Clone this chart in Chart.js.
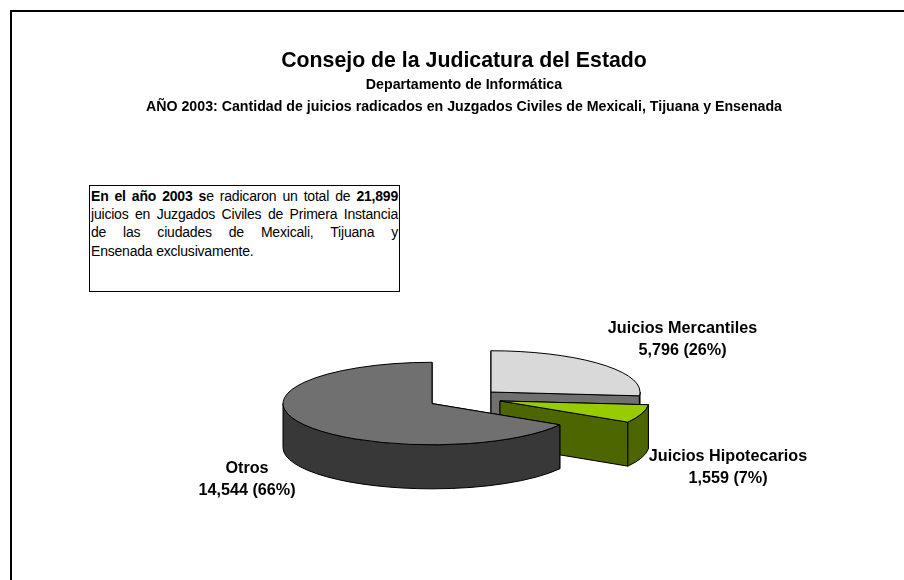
<!DOCTYPE html>
<html lang="es">
<head>
<meta charset="utf-8">
<title>Consejo de la Judicatura del Estado</title>
<script src="https://cdn.jsdelivr.net/npm/chart.js@4"></script>
<style>
html,body{margin:0;padding:0;background:#fff;width:904px;height:580px;overflow:hidden}
#frame{position:absolute;left:10px;top:10px;right:-5px;bottom:-5px;border:2px solid #000}
#c{position:absolute;left:0;top:0}
#note{position:absolute;left:89px;top:185px;width:307px;height:104px;border:1px solid #000;padding:1px 1px 0 1px;
 font:14px/18.2px "Liberation Sans",Arial,sans-serif;color:#000;background:#fff;box-sizing:content-box}
#note div{text-align:justify;text-align-last:justify;white-space:nowrap;letter-spacing:-0.2px}
#note div.last{text-align:left;text-align-last:left}
</style>
</head>
<body>
<div id="frame"></div>
<canvas id="c" width="904" height="580"></canvas>
<div id="note">
<div><b>En el año 2003 s</b>e radicaron un total de <b>21,899</b></div>
<div>juicios en Juzgados Civiles de Primera Instancia</div>
<div>de las ciudades de Mexicali, Tijuana y</div>
<div class="last">Ensenada exclusivamente.</div>
</div>
<script>
const categories = ['Juicios Mercantiles', 'Juicios Hipotecarios', 'Otros'];
const values = [5796, 1559, 14544];
const percents = [26, 7, 66];
const topColors = ['#D9D9D9', '#99CC00', '#707070'];
const wallColors = ['#707070', '#4D6600', '#383838'];
const titleText = 'Consejo de la Judicatura del Estado';
const subtitleLines = ['Departamento de Informática',
  'AÑO 2003: Cantidad de juicios radicados en Juzgados Civiles de Mexicali, Tijuana y Ensenada'];

const pie3d = {
  id: 'pie3d',
  beforeDatasetDraw(chart, args, o) {
    const ctx = chart.ctx, arcs = args.meta.data;
    arcs.forEach((arc, i) => {
      const R = arc.outerRadius, k = o.tilt, D = o.depth;
      const a0 = arc.startAngle, a1 = arc.endAngle, mid = (a0 + a1) / 2;
      const cx = o.cx + Math.cos(mid) * o.explode[i];
      const cy = o.cy + Math.sin(mid) * o.explode[i] * k;
      const pt = a => [cx + R * Math.cos(a), cy + R * k * Math.sin(a)];
      ctx.save();
      ctx.lineWidth = 1; ctx.strokeStyle = '#000'; ctx.lineJoin = 'round';
      ctx.fillStyle = wallColors[i];
      [a0, a1].forEach(a => {
        const p = pt(a);
        ctx.beginPath();
        ctx.moveTo(cx, cy); ctx.lineTo(p[0], p[1]);
        ctx.lineTo(p[0], p[1] + D); ctx.lineTo(cx, cy + D);
        ctx.closePath(); ctx.fill(); ctx.stroke();
      });
      const s = Math.max(a0, 0), e = Math.min(a1, Math.PI);
      if (e > s) {
        ctx.beginPath();
        ctx.ellipse(cx, cy, R, R * k, 0, s, e);
        ctx.ellipse(cx, cy + D, R, R * k, 0, e, s, true);
        ctx.closePath(); ctx.fill(); ctx.stroke();
      }
      ctx.save();
      ctx.translate(cx, cy); ctx.scale(1, k); ctx.translate(-arc.x, -arc.y);
      arc.draw(ctx);
      ctx.restore();
      ctx.beginPath();
      ctx.moveTo(cx, cy);
      ctx.ellipse(cx, cy, R, R * k, 0, a0, a1);
      ctx.closePath(); ctx.stroke();
      ctx.restore();
    });
    return false;
  },
  afterDraw(chart, args, o) {
    const ctx = chart.ctx;
    ctx.save();
    ctx.fillStyle = '#000';
    ctx.font = 'bold 16.2px "Liberation Sans", Arial, sans-serif';
    ctx.textAlign = 'center'; ctx.textBaseline = 'middle';
    categories.forEach((name, i) => {
      const [x, y] = o.labelAt[i];
      ctx.fillText(name, x, y);
      ctx.fillText(values[i].toLocaleString('en-US') + ' (' + percents[i] + '%)', x, y + 22);
    });
    ctx.restore();
  }
};

new Chart(document.getElementById('c'), {
  type: 'pie',
  plugins: [pie3d],
  data: { labels: categories, datasets: [{ data: values, backgroundColor: topColors, borderWidth: 0 }] },
  options: {
    responsive: false, animation: false, events: [],
    radius: 149,
    layout: { padding: { left: 24, right: 0, top: 0, bottom: 0 } },
    plugins: {
      legend: { display: false }, tooltip: { enabled: false },
      title: { display: true, text: titleText, color: '#000',
        font: { family: '"Liberation Sans", Arial, sans-serif', size: 21.3, weight: 'bold', lineHeight: 1.2 },
        padding: { top: 48, bottom: 0 } },
      subtitle: { display: true, text: subtitleLines, color: '#000',
        font: { family: '"Liberation Sans", Arial, sans-serif', size: 14.2, weight: 'bold', lineHeight: 1.56 },
        padding: 0 },
      pie3d: { cx: 467.4, cy: 398, tilt: 0.277, depth: 44, explode: [32, 34.3, 40.7],
        labelAt: [[682.5, 328.5], [728, 457], [247, 468.5]] }
    }
  }
});
</script>
</body>
</html>
